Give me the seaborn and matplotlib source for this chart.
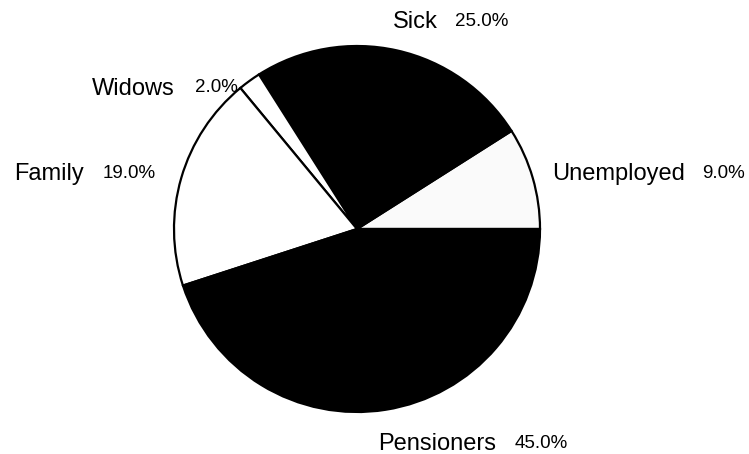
import matplotlib.pyplot as plt
import seaborn as sns

categories = ['Unemployed', 'Sick', 'Widows', 'Family', 'Pensioners']
shares = [9.0, 25.0, 2.0, 19.0, 45.0]
fills = ['#fafafa', 'black', 'white', 'white', 'black']

# label anchors in pixel coords (left edge of name, left edge of pct, y centre)
label_pos = {
    'Unemployed': (552, 702, 174),
    'Sick': (393, 455, 22),
    'Widows': (92, 195, 89),
    'Family': (14, 103, 174),
    'Pensioners': (378, 515, 444),
}

sns.set_theme(style='white')
plt.rcParams['font.family'] = ['Liberation Sans', 'DejaVu Sans']

W, H = 749, 454
fig = plt.figure(figsize=(W / 100, H / 100), dpi=100)
ax = fig.add_axes([0, 0, 1, 1])

ax.pie(shares, colors=fills, startangle=0, counterclock=True,
       center=(357, H - 229), radius=183, frame=True,
       wedgeprops=dict(edgecolor='black', linewidth=1.6))
ax.set_xlim(0, W)
ax.set_ylim(0, H)
ax.set_aspect('equal')
ax.axis('off')

for name, val in zip(categories, shares):
    xn, xp, y = label_pos[name]
    ax.text(xn, H - y, name, fontsize=17, ha='left', va='center', color='black')
    ax.text(xp, H - y + 1, f'{val:.1f}%', fontsize=13.5, ha='left', va='center', color='black')

fig.savefig('out.png', dpi=100, facecolor='white')
